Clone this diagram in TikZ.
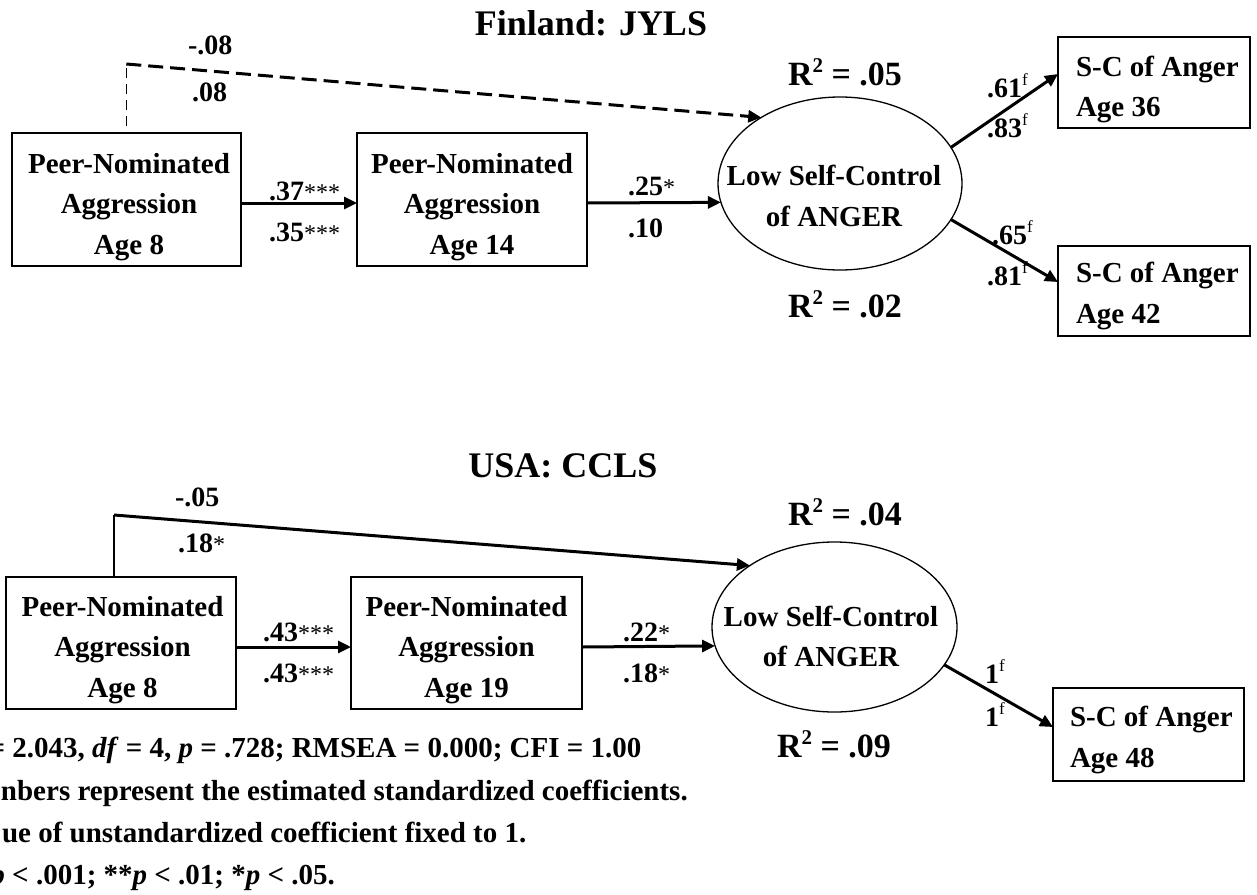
\documentclass[tikz,border=0pt]{standalone}
\usepackage{fontspec}
\setmainfont{Liberation Serif}
\usetikzlibrary{arrows.meta,shapes.geometric}

\newcommand\Rsq{R\raisebox{0.36em}{\fontsize{21}{21}\selectfont 2}}
\newcommand\fsup{\raisebox{0.42em}{\fontsize{17}{17}\selectfont\mdseries f}}
\newcommand\stars[1]{{\fontsize{24}{24}\selectfont\mdseries #1}}

\begin{document}
\begin{tikzpicture}[x=1pt,y=-1pt,
  every node/.style={font=\bfseries\fontsize{29}{40.5}\selectfont, inner sep=0pt, outer sep=0pt},
  titlefont/.style={font=\bfseries\fontsize{36}{40}\selectfont},
  rfont/.style={font=\bfseries\fontsize{34}{40}\selectfont},
  lab/.style={anchor=base west, font=\bfseries\fontsize{28}{32}\selectfont},
  box/.style={draw, rectangle, line width=1.6pt},
  ell/.style={draw, ellipse, line width=1.3pt},
  arr/.style={line width=3pt, -{Triangle[length=13pt,width=12pt]}},
  dasharr/.style={line width=3pt, dash pattern=on 15pt off 7pt, -{Triangle[length=13pt,width=12pt]}},
  thindash/.style={line width=1.5pt, dash pattern=on 10pt off 6pt},
  thinline/.style={line width=1.5pt}]

\fill[white] (0,0) rectangle (1257,894);
\useasboundingbox (0,0) rectangle (1257,894);

% ---------------- Finland ----------------
\node[titlefont, anchor=base] (t1) at (591,35) {Finland: JYLS};

\node[box, minimum width=229pt, minimum height=133pt] (a1) at (126.3,199.5) {};
\node[align=center] (a1t) at (129,206.7) {Peer-Nominated\\Aggression\\Age 8};
\node[box, minimum width=230pt, minimum height=133pt] (b1) at (472,199.5) {};
\node[align=center] (b1t) at (472,206.7) {Peer-Nominated\\Aggression\\Age 14};
\node[ell, minimum width=244pt, minimum height=173pt] (e1) at (840,183.5) {};
\node[align=center] (e1t) at (834,196) {Low Self-Control\\of ANGER};
\node[box, minimum width=192pt, minimum height=91pt] (c1) at (1154,82.5) {};
\node[align=left, anchor=west] (c1t) at (1076,89.5) {S-C of Anger\\Age 36};
\node[box, minimum width=192pt, minimum height=90pt] (d1) at (1154,291) {};
\node[align=left, anchor=west] (d1t) at (1076,296) {S-C of Anger\\Age 42};

\draw[arr] ([yshift=-3.5pt]a1.east) -- ([yshift=-3.5pt]b1.west);
\draw[arr] ([yshift=-3.5pt]b1.east) -- (e1.189);
\coordinate (f1) at (126.3,64);
\draw[thindash] ([yshift=7pt]a1.north) -- (f1);
\draw[dasharr] (f1) -- (e1.140);
\draw[arr] (e1.18) -- ([yshift=8.5pt]c1.west);
\draw[arr] (e1.342) -- ([yshift=9pt]d1.west);

\node[lab] (l1) at (269,200) {.37\stars{***}};
\node[lab] (l2) at (269,241) {.35\stars{***}};
\node[lab] (l3) at (628,195) {.25\stars{*}};
\node[lab] (l4) at (628,237) {.10};
\node[lab] (l5) at (188,54) {-.08};
\node[lab] (l6) at (192,101) {.08};
\node[lab] (l7) at (987,97) {.61\fsup};
\node[lab] (l8) at (987,137) {.83\fsup};
\node[lab] (l9) at (992,244) {.65\fsup};
\node[lab] (l10) at (987,285) {.81\fsup};
\node[rfont, anchor=base west] (r1) at (788,85) {\Rsq{} = .05};
\node[rfont, anchor=base west] (r2) at (788,317) {\Rsq{} = .02};

% ---------------- USA ----------------
\node[titlefont, anchor=base] (t2) at (563,477) {USA: CCLS};

\node[box, minimum width=230pt, minimum height=132pt] (a2) at (121,643) {};
\node[align=center] (a2t) at (122.5,650) {Peer-Nominated\\Aggression\\Age 8};
\node[box, minimum width=231pt, minimum height=132pt] (b2) at (466.5,643) {};
\node[align=center] (b2t) at (466.5,650) {Peer-Nominated\\Aggression\\Age 19};
\node[ell, minimum width=245pt, minimum height=170pt] (e2) at (834.5,627) {};
\node[align=center] (e2t) at (831,636.5) {Low Self-Control\\of ANGER};
\node[box, minimum width=191pt, minimum height=93pt] (g2) at (1148.5,734.5) {};
\node[align=left, anchor=west] (g2t) at (1070,740) {S-C of Anger\\Age 48};

\draw[arr] ([yshift=-4pt]a2.east) -- ([yshift=-4pt]b2.west);
\draw[arr] ([yshift=-4pt]b2.east) -- (e2.189);
\coordinate (g1) at (114,515);
\draw[thinline] ([xshift=-7pt]a2.north) -- (g1);
\draw[arr] (g1) -- (e2.144);
\draw[arr] (e2.341) -- ([yshift=7.5pt]g2.west);

\node[lab] (m1) at (175,506) {-.05};
\node[lab] (m2) at (178,552) {.18\stars{*}};
\node[lab] (m3) at (263,641) {.43\stars{***}};
\node[lab] (m4) at (263,682) {.43\stars{***}};
\node[lab] (m5) at (623,641) {.22\stars{*}};
\node[lab] (m6) at (623,682) {.18\stars{*}};
\node[lab] (m7) at (985,683) {1\fsup};
\node[lab] (m8) at (985,726) {1\fsup};
\node[rfont, anchor=base west] (r3) at (788,525) {\Rsq{} = .04};
\node[rfont, anchor=base west] (r4) at (777,757) {\Rsq{} = .09};

% ---------------- Notes ----------------
\node[anchor=base west] (n1) at (-11.5,757) {= 2.043, \textit{df} = 4, \textit{p} = .728; RMSEA = 0.000; CFI = 1.00};
\node[anchor=base west] (n2) at (1,800) {nbers represent the estimated standardized coefficients.};
\node[anchor=base west] (n3) at (2,842) {ue of unstandardized coefficient fixed to 1.};
\node[anchor=base west] (n4) at (-9.5,884) {\textit{p} < .001; **\textit{p} < .01; *\textit{p} < .05.};
\end{tikzpicture}
\end{document}
